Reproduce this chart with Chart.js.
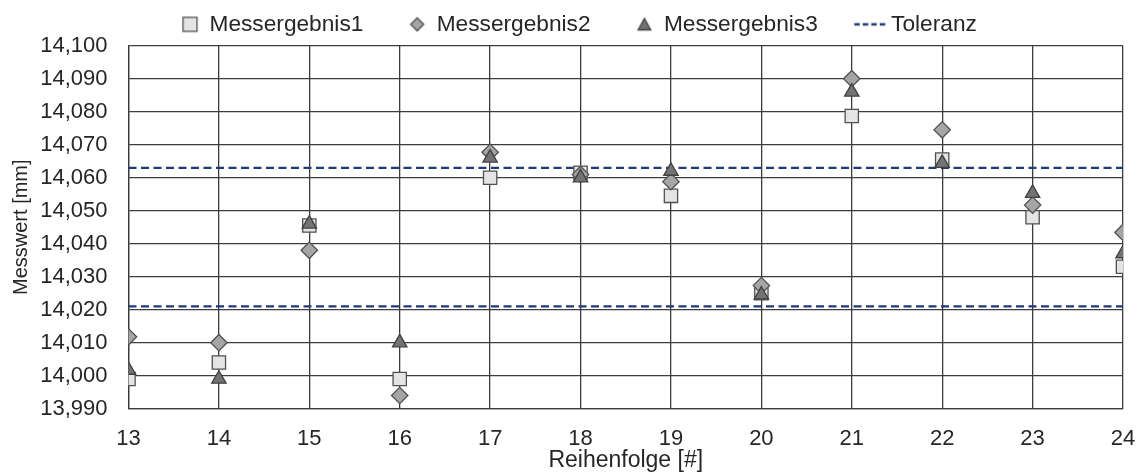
<!DOCTYPE html>
<html>
<head>
<meta charset="utf-8">
<script src="https://cdn.jsdelivr.net/npm/chart.js@4.4.1/dist/chart.umd.min.js"></script>
<style>
  html, body { margin: 0; padding: 0; background: #ffffff; }
  #wrap { width: 1141px; height: 472px; position: relative; }
</style>
</head>
<body>
<div id="wrap"><canvas id="c"></canvas></div>
<script>
// ---- data ----
const reihenfolge = [13, 14, 15, 16, 17, 18, 19, 20, 21, 22, 23, 24];
const messergebnis1 = [13.999, 14.004, 14.0455, 13.999, 14.060, 14.0615, 14.0545, 14.025, 14.0787, 14.0655, 14.048, 14.033];
const messergebnis2 = [14.0118, 14.010, 14.038, 13.994, 14.0677, 14.061, 14.0588, 14.0273, 14.090, 14.0745, 14.0517, 14.0434];
const messergebnis3 = [14.0017, 13.999, 14.046, 14.010, 14.066, 14.060, 14.062, 14.0245, 14.086, 14.0644, 14.0553, 14.037];
const toleranzOben = 14.063;
const toleranzUnten = 14.021;
const seriesNames = ['Messergebnis1', 'Messergebnis2', 'Messergebnis3', 'Toleranz'];
const xTitle = 'Reihenfolge [#]';
const yTitle = 'Messwert [mm]';
const yMin = 13.99, yMax = 14.10, yStep = 0.01;
const xMin = 13, xMax = 24;

const FONT = 'Liberation Sans, Arial, sans-serif';
Chart.defaults.font.family = FONT;
Chart.defaults.color = '#262626';

const GRID = '#3c3c3c';
const NAVY = '#1f3a78';

function pts(vals) { return reihenfolge.map((x, i) => ({x: x, y: vals[i]})); }

// legend marker images
function legendImg(kind) {
  const W = 72, H = 24;
  const c = document.createElement('canvas');
  c.width = W; c.height = H;
  const g = c.getContext('2d');
  const cx = 36 + 17.85, cy = 12;
  g.lineWidth = 1.3;
  g.strokeStyle = '#505050';
  if (kind === 'square') {
    g.fillStyle = '#e4e4e4';
    g.fillRect(cx - 7, cy - 7, 14, 14);
    g.strokeRect(cx - 7, cy - 7, 14, 14);
  } else if (kind === 'diamond') {
    g.fillStyle = '#a5a5a5';
    g.beginPath();
    g.moveTo(cx, cy - 6.5); g.lineTo(cx + 6.5, cy); g.lineTo(cx, cy + 6.5); g.lineTo(cx - 6.5, cy);
    g.closePath(); g.fill(); g.stroke();
  } else if (kind === 'triangle') {
    g.fillStyle = '#737373';
    g.strokeStyle = '#404040';
    g.beginPath();
    g.moveTo(cx, cy - 6); g.lineTo(cx + 6.3, cy + 5.5); g.lineTo(cx - 6.3, cy + 5.5);
    g.closePath(); g.fill(); g.stroke();
  } else {
    g.strokeStyle = NAVY;
    g.lineWidth = 2.3;
    g.setLineDash([5.5, 3]);
    g.beginPath();
    g.moveTo(36 + 0.5, cy); g.lineTo(36 + 34.3, cy);
    g.stroke();
  }
  return c;
}
const legendImgs = [legendImg('square'), legendImg('diamond'), legendImg('triangle'), legendImg('line')];

const cfg = {
  type: 'scatter',
  data: {
    datasets: [
      {
        label: seriesNames[0], data: pts(messergebnis1), order: 3,
        pointStyle: 'rect', pointRadius: 9.4, pointHoverRadius: 9.4,
        backgroundColor: '#e4e4e4', borderColor: '#505050', borderWidth: 1.3
      },
      {
        label: seriesNames[1], data: pts(messergebnis2), order: 2,
        pointStyle: 'rectRot', pointRadius: 8.2, pointHoverRadius: 8.2,
        backgroundColor: '#a5a5a5', borderColor: '#505050', borderWidth: 1.3
      },
      {
        label: seriesNames[2], data: pts(messergebnis3), order: 1,
        pointStyle: 'triangle', pointRadius: 8.3, pointHoverRadius: 8.3,
        backgroundColor: '#737373', borderColor: '#404040', borderWidth: 1.3
      },
      {
        label: seriesNames[3], data: [{x: xMin, y: toleranzOben}, {x: xMax, y: toleranzOben}], order: 5,
        showLine: true, pointRadius: 0, pointHoverRadius: 0,
        borderColor: NAVY, borderWidth: 2.3, borderDash: [8, 4.5], fill: false
      },
      {
        label: seriesNames[3] + '_u', data: [{x: xMin, y: toleranzUnten}, {x: xMax, y: toleranzUnten}], order: 6,
        showLine: true, pointRadius: 0, pointHoverRadius: 0,
        borderColor: NAVY, borderWidth: 2.3, borderDash: [8, 4.5], fill: false
      }
    ]
  },
  options: {
    responsive: true,
    maintainAspectRatio: false,
    animation: false,
    layout: { padding: { top: 3, right: 18, left: 0, bottom: 0 } },
    plugins: {
      tooltip: { enabled: false },
      legend: {
        display: true,
        position: 'top',
        labels: {
          usePointStyle: true,
          pointStyleWidth: 52,
          boxHeight: 22,
          padding: 10,
          color: '#262626',
          font: { size: 22.7, family: FONT },
          generateLabels: function (chart) {
            return chart.data.datasets.slice(0, 4).map((ds, i) => ({
              text: ds.label,
              pointStyle: legendImgs[i],
              fillStyle: 'rgba(0,0,0,0)',
              strokeStyle: 'rgba(0,0,0,0)',
              lineWidth: 0,
              hidden: false,
              datasetIndex: i,
              fontColor: '#262626'
            }));
          }
        }
      }
    },
    scales: {
      x: {
        type: 'linear',
        min: xMin, max: xMax,
        afterFit: (s) => { s.height = 63.3; s.paddingRight = 0; s.paddingLeft = 0; },
        ticks: { stepSize: 1, padding: 17, color: '#262626', font: { size: 22 } },
        grid: { color: GRID, lineWidth: 1.3, drawTicks: false },
        border: { color: GRID, width: 1.3 },
        title: { display: true, text: xTitle, color: '#262626', font: { size: 23, lineHeight: 1.0 }, padding: { top: 0, bottom: 0 } }
      },
      y: {
        type: 'linear',
        min: yMin, max: yMax,
        afterFit: (s) => { s.width = 128.5; },
        ticks: {
          stepSize: yStep, padding: 21, color: '#262626', font: { size: 22 },
          callback: (v) => v.toFixed(3).replace('.', ',')
        },
        grid: { color: GRID, lineWidth: 1.3, drawTicks: false },
        border: { color: GRID, width: 1.3 },
        title: { display: true, text: yTitle, color: '#262626', font: { size: 20 }, padding: { top: 9.5, bottom: 0 } }
      }
    }
  }
};
new Chart(document.getElementById('c'), cfg);
</script>
</body>
</html>
